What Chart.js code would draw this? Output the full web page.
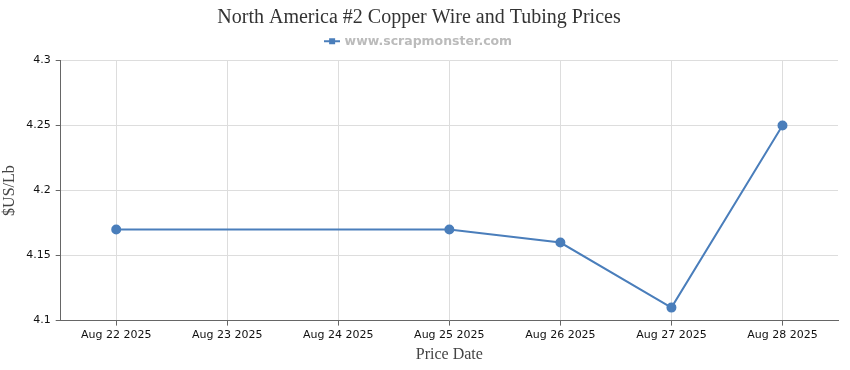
<!DOCTYPE html>
<html>
<head>
<meta charset="utf-8">
<script src="https://cdn.jsdelivr.net/npm/chart.js@4"></script>
<style>
  body { margin: 0; background: #fff; }
  #wrap { width: 850px; height: 370px; }
</style>
</head>
<body>
<div id="wrap"><canvas id="grafico" width="850" height="370"></canvas></div>
<script>
const datas = ['Aug 22 2025', 'Aug 23 2025', 'Aug 24 2025', 'Aug 25 2025', 'Aug 26 2025', 'Aug 27 2025', 'Aug 28 2025'];
const precos = [4.17, null, null, 4.17, 4.16, 4.11, 4.25];
const ticksY = [4.1, 4.15, 4.2, 4.25, 4.3];

const azul = '#4a7ebb';

// ícone da legenda: linha com quadradinho
const icone = document.createElement('canvas');
icone.width = 16; icone.height = 8;
const ic = icone.getContext('2d');
ic.fillStyle = azul;
ic.fillRect(0, 3, 16, 2);
ic.fillRect(5, 1, 6, 6);

// um pouco mais de espaço abaixo da legenda
const espacoLegenda = {
  id: 'espacoLegenda',
  afterInit(chart) {
    const fitOrig = chart.legend.fit;
    chart.legend.fit = function () { fitOrig.call(this); this.height += 3; };
  }
};

new Chart(document.getElementById('grafico'), {
  type: 'line',
  data: {
    labels: datas,
    datasets: [{
      label: 'www.scrapmonster.com',
      data: precos,
      borderColor: azul,
      backgroundColor: azul,
      borderWidth: 2,
      pointRadius: 4,
      pointHoverRadius: 5,
      tension: 0,
      spanGaps: true
    }]
  },
  plugins: [espacoLegenda],
  options: {
    responsive: false,
    animation: false,
    layout: { padding: { left: 0, right: 12, top: 6, bottom: 2 } },
    plugins: {
      title: {
        display: true,
        text: 'North America #2 Copper Wire and Tubing Prices',
        color: '#333',
        font: { family: '"Liberation Serif", serif', size: 20, weight: 'normal' },
        padding: { top: 0, bottom: -3 }
      },
      legend: {
        labels: {
          usePointStyle: true,
          pointStyle: icone,
          color: '#bbb',
          font: { family: '"DejaVu Sans", sans-serif', size: 12.5, weight: 'bold' },
          padding: 8
        }
      },
      tooltip: { enabled: false }
    },
    scales: {
      x: {
        offset: true,
        grid: { color: '#ddd', offset: false, tickLength: 5, tickColor: '#666' },
        border: { color: '#666' },
        ticks: { color: '#111', font: { family: '"DejaVu Sans", sans-serif', size: 11 }, maxRotation: 0 },
        title: {
          display: true, text: 'Price Date', color: '#444',
          font: { family: '"Liberation Serif", serif', size: 16 }, padding: { top: 0 }
        }
      },
      y: {
        min: 4.1,
        max: 4.3,
        afterBuildTicks: ax => { ax.ticks = ticksY.map(v => ({ value: v })); },
        grid: { color: '#ddd', tickLength: 5, tickColor: '#666' },
        border: { color: '#666' },
        ticks: {
          color: '#111', font: { family: '"DejaVu Sans", sans-serif', size: 11 }, padding: 5,
          callback: v => String(+v.toFixed(2))
        },
        title: {
          display: true, text: '$US/Lb', color: '#444',
          font: { family: '"Liberation Serif", serif', size: 16 }, padding: { top: 0, bottom: 2 }
        }
      }
    }
  }
});
</script>
</body>
</html>
